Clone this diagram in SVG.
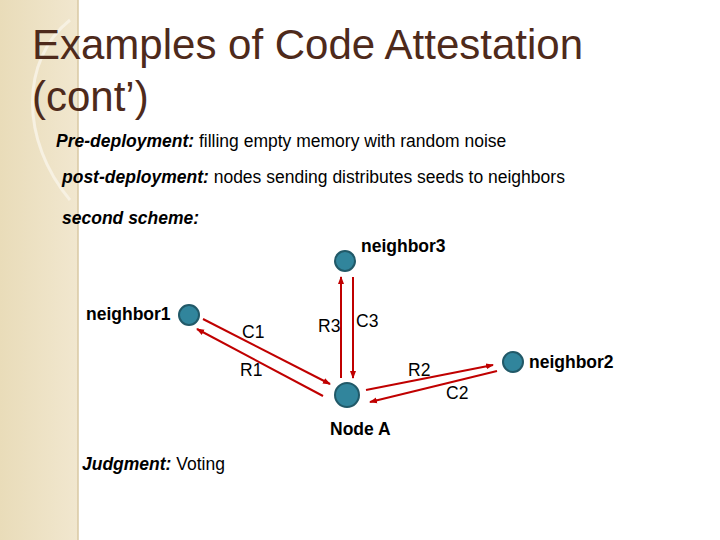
<svg xmlns="http://www.w3.org/2000/svg" width="720" height="540" viewBox="0 0 720 540">
<defs>
<marker id="ah" markerWidth="8" markerHeight="8" refX="7" refY="4" orient="auto" markerUnits="userSpaceOnUse"><path d="M0,1 L8,4 L0,7 z" fill="#C00000"/></marker>
<linearGradient id="bg" x1="0" x2="1" y1="0" y2="0"><stop offset="0" stop-color="#E9DCB9"/><stop offset="1" stop-color="#F1E7CF"/></linearGradient>
</defs>
<style>
.t{font-family:"Liberation Sans",Arial,sans-serif;fill:#000;font-size:17.5px}
.b{font-weight:bold}
.bi{font-weight:bold;font-style:italic}
.n{fill:#31859C;stroke:#215968;stroke-width:2}
.c{stroke:#C00000;stroke-width:2;fill:none;marker-end:url(#ah)}
</style>
<rect width="720" height="540" fill="#fff"/>
<rect x="0" y="0" width="78" height="540" fill="url(#bg)"/>
<line x1="78" y1="0" x2="78" y2="540" stroke="#D9C9A3" stroke-width="1.5"/>
<path d="M70,20 C20,60 20,140 70,200" stroke="#F7F1E2" stroke-width="3" fill="none"/>
<text x="32" y="59" font-family="Liberation Sans,Arial,sans-serif" font-size="42" fill="#4E2A1B">Examples of Code Attestation</text>
<text x="32" y="111" font-family="Liberation Sans,Arial,sans-serif" font-size="42" fill="#4E2A1B">(cont’)</text>
<text class="t" x="56" y="147"><tspan class="bi">Pre-deployment:</tspan> filling empty memory with random noise</text>
<text class="t" x="62" y="183"><tspan class="bi">post-deployment:</tspan> nodes sending distributes seeds to neighbors</text>
<text class="t bi" x="62" y="224">second scheme:</text>
<g id="connectors">
<line class="c" x1="203" y1="319" x2="330" y2="384"/>
<line class="c" x1="323" y1="396" x2="197" y2="329"/>
<line class="c" x1="341" y1="378" x2="341" y2="277"/>
<line class="c" x1="353" y1="277" x2="353" y2="378"/>
<line class="c" x1="366" y1="390" x2="493" y2="365"/>
<line class="c" x1="497" y1="371" x2="370" y2="402"/>
<text class="t" x="242" y="338">C1</text>
<text class="t" x="240" y="376">R1</text>
<text class="t" x="318" y="332">R3</text>
<text class="t" x="356" y="327">C3</text>
<text class="t" x="408" y="376">R2</text>
<text class="t" x="446" y="399">C2</text>
</g>
<g id="neighbor3"><circle class="n" cx="345" cy="261" r="10"/><text class="t b" x="361" y="252">neighbor3</text></g>
<g id="neighbor1"><circle class="n" cx="189" cy="315" r="10"/><text class="t b" x="86" y="320">neighbor1</text></g>
<g id="neighbor2"><circle class="n" cx="513" cy="362" r="10"/><text class="t b" x="529" y="368">neighbor2</text></g>
<g id="nodeA"><circle class="n" cx="347" cy="395" r="12"/><text class="t b" x="330" y="435">Node A</text></g>
<text class="t" x="82" y="470"><tspan class="bi">Judgment:</tspan>  Voting</text>
</svg>
